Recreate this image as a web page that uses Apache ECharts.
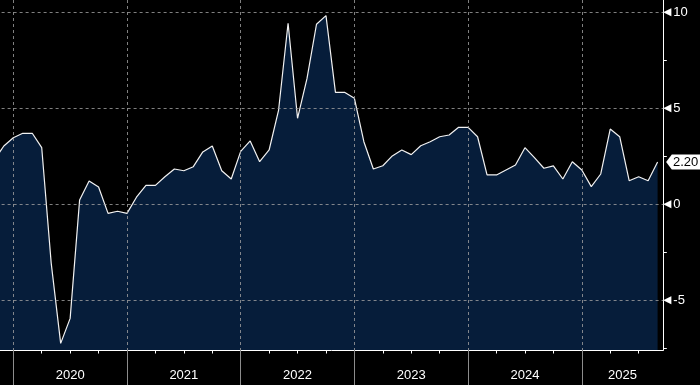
<!DOCTYPE html>
<html><head><meta charset="utf-8">
<script src="https://cdn.jsdelivr.net/npm/echarts@6/dist/echarts.min.js"></script>
<style>html,body{margin:0;padding:0;background:#000}#c{width:700px;height:385px}</style>
</head><body><div id="c"></div>
<script>
const months = [
 '2019-10','2019-11','2019-12',
 '2020-01','2020-02','2020-03','2020-04','2020-05','2020-06','2020-07','2020-08','2020-09','2020-10','2020-11','2020-12',
 '2021-01','2021-02','2021-03','2021-04','2021-05','2021-06','2021-07','2021-08','2021-09','2021-10','2021-11','2021-12',
 '2022-01','2022-02','2022-03','2022-04','2022-05','2022-06','2022-07','2022-08','2022-09','2022-10','2022-11','2022-12',
 '2023-01','2023-02','2023-03','2023-04','2023-05','2023-06','2023-07','2023-08','2023-09','2023-10','2023-11','2023-12',
 '2024-01','2024-02','2024-03','2024-04','2024-05','2024-06','2024-07','2024-08','2024-09','2024-10','2024-11','2024-12',
 '2025-01','2025-02','2025-03','2025-04','2025-05','2025-06','2025-07','2025-08'
];
const values = [
 2.30, 3.04, 3.47,
 3.70, 3.70, 2.95, -3.06, -7.24, -5.94, 0.23, 1.22, 0.90, -0.47, -0.36, -0.47,
 0.37, 0.99, 0.99, 1.44, 1.84, 1.75, 1.96, 2.73, 3.04, 1.75, 1.32, 2.76,
 3.30, 2.22, 2.83, 4.91, 9.43, 4.48, 6.56, 9.38, 9.83, 5.83, 5.83, 5.52,
 3.26, 1.84, 2.01, 2.52, 2.83, 2.59, 3.05, 3.26, 3.52, 3.61, 4.01, 4.01,
 3.52, 1.53, 1.53, 1.79, 2.05, 2.95, 2.43, 1.88, 2.00, 1.32, 2.22, 1.79,
 0.92, 1.58, 3.92, 3.52, 1.23, 1.44, 1.23, 2.20
];
const yearLabels = ['2020','2021','2022','2023','2024','2025'];
const yTickValues = [-5, 0, 5, 10];

// ---- layout constants (pixels) ----
const W = 700, H = 385;
const X0 = 13.3, PX = 9.475;          // pixel of Jan-2020 boundary, px per month
const PLOT_RIGHT = 663.3, PLOT_BOTTOM = 350;
const Y0 = 204.33, PY = 19.2;         // pixel of value 0, px per unit
const XMIN = -12;
const FONT = '"Liberation Sans", Arial, sans-serif';

function mIndex(s){ const p = s.split('-').map(Number); return (p[0]-2020)*12 + p[1]; }
const pts = months.map((s,i) => [mIndex(s), values[i]]);
const gl = X0 + XMIN*PX;
const XMAX_A = (PLOT_RIGHT - X0)/PX;
const YMAX_A = Y0/PY, YMIN_A = (Y0 - PLOT_BOTTOM)/PY;
function grid(maxM, topPx, bottomPx){
  return {left: gl, right: W - (X0 + maxM*PX), top: topPx, bottom: H - bottomPx,
          containLabel: false, outerBoundsMode: 'none'};
}
const yearCenters = yearLabels.map(y => {
  const s = (Number(y)-2020)*12; const e = Math.min(s+12, XMAX_A); return (s+e)/2;
});
const gridColor = 'rgba(160,160,160,0.8)';
const hiddenY = (gi) => ({type:'value', gridIndex: gi, show:false, min:0, max:1});
const hiddenX = (gi) => ({type:'value', gridIndex: gi, show:false, min:0, max:1});

const option = {
  backgroundColor: '#000',
  animation: false,
  textStyle: {fontFamily: FONT},
  grid: [
    grid(XMAX_A, 0, PLOT_BOTTOM),                       // 0: series
    grid(60, 0, PLOT_BOTTOM),                           // 1: year lines
    grid(66, 0, PLOT_BOTTOM),                           // 2: quarter ticks + year labels
    Object.assign(grid(XMAX_A, 0, 0), {top: Y0 - 15*PY, bottom: H - (Y0 + 10*PY)}) // 3: y labels/split
  ],
  xAxis: [
    {type:'value', gridIndex:0, min:XMIN, max:XMAX_A, position:'bottom',
     axisLine:{show:true, onZero:false, lineStyle:{color:'#fff', width:1}},
     axisTick:{show:false}, axisLabel:{show:false}, splitLine:{show:false}},
    {type:'value', gridIndex:1, min:XMIN, max:60, interval:12, z:5,
     axisLine:{show:false, onZero:false}, axisTick:{show:true, length:35, lineStyle:{color:'#8c8c8c', width:1}},
     axisLabel:{show:false},
     splitLine:{show:true, lineStyle:{color:gridColor, type:[3,3], width:1}}},
    {type:'value', gridIndex:2, min:XMIN, max:66, interval:3,
     axisLine:{show:false, onZero:false}, axisTick:{show:true, length:3.5, lineStyle:{color:'#fff', width:1}},
     splitLine:{show:false},
     axisLabel:{show:true, customValues: yearCenters, margin:19, color:'#fff', fontSize:13, fontFamily:FONT,
       formatter: v => {
         const r = ((v % 12) + 12) % 12;
         if (Number.isInteger(v) && r !== 6) return '';
         const y = String(2020 + Math.floor(v/12));
         return yearLabels.indexOf(y) >= 0 ? y : '';
       }}},
    hiddenX(3)
  ],
  yAxis: [
    {type:'value', gridIndex:0, position:'right', min:YMIN_A, max:YMAX_A,
     axisLine:{show:true, onZero:false, lineStyle:{color:'#fff', width:1}},
     axisTick:{show:false}, axisLabel:{show:false}, splitLine:{show:false}},
    hiddenY(1), hiddenY(2),
    {type:'value', gridIndex:3, position:'right', min:-10, max:15, interval:5, z:5,
     axisLine:{show:false, onZero:false},
     axisTick:{show:false},
     minorTick:{show:true, splitNumber:2, length:3.5, lineStyle:{color:'#fff', width:1}},
     splitLine:{show:true, lineStyle:{color:gridColor, type:[3,3], width:1}},
     axisLabel:{show:true, margin:0, color:'#fff',
       formatter: v => yTickValues.indexOf(v) >= 0 ? '{a|◀}{b|' + v + '}' : '',
       rich:{a:{fontSize:10.5, color:'#fff', padding:[0,2,0,0], fontFamily:'DejaVu Sans'},
             b:{fontSize:13, color:'#fff', fontFamily:FONT}}}}
  ],
  series: [{
    type:'line', xAxisIndex:0, yAxisIndex:0, data: pts,
    symbol:'none', z:2,
    lineStyle:{color:'#f2f2f2', width:1.2},
    areaStyle:{color:'#061d3a', opacity:1, origin:'start'},
    markPoint:{
      symbol:'path://M0,7.5 L6,0 L40,0 L40,15 L6,15 Z',
      symbolSize:[38,15], symbolKeepAspect:false,
      symbolOffset:[27.5, 0],
      itemStyle:{color:'#fff'},
      label:{show:true, position:'inside', offset:[0.5,0], color:'#000', fontSize:13, fontFamily:FONT,
             formatter: p => Number(p.value).toFixed(2)},
      data:[{coord: pts[pts.length-1], value: values[values.length-1]}]
    }
  }]
};
const chart = echarts.init(document.getElementById('c'), null, {renderer:'canvas'});
chart.setOption(option);
</script></body></html>
